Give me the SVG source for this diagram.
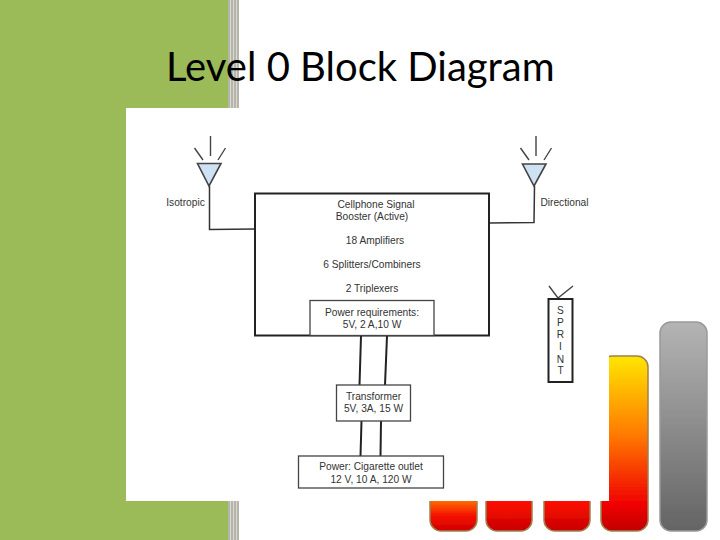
<svg xmlns="http://www.w3.org/2000/svg" width="720" height="540" viewBox="0 0 720 540">
<style>
text{font-family:"Liberation Sans",Arial,sans-serif;fill:#333;font-size:10.2px;text-anchor:middle}
text.title{font-family:Lato,"Open Sans",sans-serif;fill:#000;font-size:40px;text-anchor:start}
.b{fill:#fff;stroke:#222;stroke-width:2}
.t{fill:#fff;stroke:#444;stroke-width:1.3}
.c{fill:none;stroke:#333;stroke-width:1.5}
.k{fill:none;stroke:#222;stroke-width:2}
.r{fill:none;stroke:#444;stroke-width:1.4}
.a{fill:#cfe2f3;stroke:#444;stroke-width:1.6}
.bar{stroke:#a08050;stroke-width:1.5;filter:url(#soft)}
</style>
<defs>
<filter id="soft" x="-10%" y="-10%" width="120%" height="120%"><feGaussianBlur stdDeviation="0.7"/></filter>
<linearGradient id="fire" x1="0" y1="0" x2="0" y2="1"><stop offset="0" stop-color="#ffe600"/><stop offset=".45" stop-color="#ff7a00"/><stop offset=".85" stop-color="#f00000"/><stop offset="1" stop-color="#c00000"/></linearGradient>
<linearGradient id="fire2" gradientUnits="userSpaceOnUse" x1="0" y1="501" x2="0" y2="531"><stop offset="0" stop-color="#ff6a00"/><stop offset=".5" stop-color="#f41000"/><stop offset="1" stop-color="#d00000"/></linearGradient>
<linearGradient id="fire3" gradientUnits="userSpaceOnUse" x1="0" y1="501" x2="0" y2="531"><stop offset="0" stop-color="#ff1000"/><stop offset="1" stop-color="#c80000"/></linearGradient>
<linearGradient id="grey" x1="0" y1="0" x2="0" y2="1"><stop offset="0" stop-color="#b4b4b4"/><stop offset="1" stop-color="#646464"/></linearGradient>
</defs>
<rect width="720" height="540" fill="#fff"/>
<rect width="228" height="540" fill="#9bbb59"/>
<rect x="228" width="11" height="540" fill="#b5b5ab"/>
<path d="M230.500 0V540M233.500 0V540M236.500 0V540" stroke="#d8d8d0" stroke-width="1"/>
<rect x="660" y="322" width="47" height="209" rx="11" fill="url(#grey)" class="bar" style="stroke:#999"/>
<rect x="601" y="356" width="47" height="175" rx="11" fill="url(#fire)" class="bar"/>
<rect x="544" y="480" width="46" height="51" rx="11" fill="url(#fire3)" class="bar"/>
<rect x="486" y="480" width="46" height="51" rx="11" fill="url(#fire3)" class="bar"/>
<rect x="430" y="480" width="47" height="51" rx="11" fill="url(#fire2)" class="bar"/>
<text class="title" x="166" y="81">Level 0 Block Diagram</text>
<rect x="126" y="108" width="483" height="393" fill="#fff"/>
<g id="connectors">
<path class="c" d="M209.500 186V229.500L255 229"/>
<path class="c" d="M534.500 186L534 222.500L489 223"/>
<path class="k" d="M361 336L359.500 385M387 336L385 385M361.500 421L360.500 456M381 421L380.500 456"/>
</g>
<g id="isotropic">
<path class="r" d="M210.500 136V156M194.500 148L203 160M225.500 148L218 160"/>
<path class="a" d="M197.500 163.500H221L209 186Z"/>
<text x="185.500" y="206">Isotropic</text>
</g>
<g id="directional">
<path class="r" d="M536 136V156M520.500 148L529 160M551.500 148L544 160"/>
<path class="a" d="M522.500 164H546L534 186Z"/>
<text x="564.500" y="206">Directional</text>
</g>
<g id="booster">
<rect class="b" x="255" y="193.500" width="234" height="142"/>
<text x="376" y="208">Cellphone Signal</text>
<text x="372" y="220">Booster (Active)</text>
<text x="375" y="244">18 Amplifiers</text>
<text x="372" y="268">6 Splitters/Combiners</text>
<text x="372" y="292">2 Triplexers</text>
</g>
<g id="power-req">
<rect class="t" x="310" y="300.500" width="124" height="35"/>
<text x="372" y="316">Power requirements:</text>
<text x="372" y="328">5V, 2 A,10 W</text>
</g>
<g id="sprint">
<path class="r" d="M549 286L558 298L573 286"/>
<rect class="b" x="548.500" y="299" width="24" height="83"/>
<text x="560.500" y="314">S</text>
<text x="560.500" y="326">P</text>
<text x="560.500" y="338">R</text>
<text x="560.500" y="350">I</text>
<text x="560.500" y="363">N</text>
<text x="560.500" y="374">T</text>
</g>
<g id="transformer">
<rect class="t" x="336.500" y="385" width="74" height="36"/>
<text x="373.500" y="400">Transformer</text>
<text x="373.500" y="412">5V, 3A, 15 W</text>
</g>
<g id="outlet">
<rect class="t" x="298.500" y="456" width="145" height="32"/>
<text x="371" y="470">Power: Cigarette outlet</text>
<text x="371" y="483">12 V, 10 A, 120 W</text>
</g>
</svg>
